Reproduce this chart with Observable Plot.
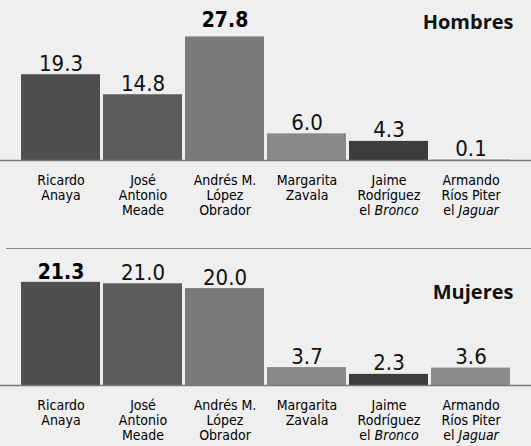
<!DOCTYPE html>
<html><head><meta charset="utf-8">
<script src="https://cdn.jsdelivr.net/npm/d3@7"></script>
<script src="https://cdn.jsdelivr.net/npm/@observablehq/plot@0.6"></script>
<style>
body{margin:0;background:#efefef;}
#chart{position:relative;width:531px;height:446px;background:#efefef;overflow:hidden}
#top,#bottom{position:absolute;left:0}
#top{top:0}
#bottom{top:230px}
#sep{position:absolute;left:6px;right:0;top:248px;border-top:1px solid #8c8c8c}
</style></head><body>
<div id="chart"><div id="top"></div><div id="sep"></div><div id="bottom"></div></div>
<script>
const candidates = ["Ricardo\nAnaya","José\nAntonio\nMeade","Andrés M.\nLópez\nObrador","Margarita\nZavala","Jaime\nRodríguez\nel Bronco","Armando\nRíos Piter\nel Jaguar"];
const hombres = [19.3, 14.8, 27.8, 6.0, 4.3, 0.1];
const mujeres = [21.3, 21.0, 20.0, 3.7, 2.3, 3.6];
const barColors = ["#4f4f4f","#5c5c5c","#7a7a7a","#8a8a8a","#3d3d3d","#8c8c8c"];
const panelTitles = ["Hombres","Mujeres"];

const numFont = "'Liberation Sans Narrow', 'DejaVu Sans Condensed', sans-serif";
const labFont = "'DejaVu Sans Condensed', 'Liberation Sans Narrow', sans-serif";

function italicize(svg) {
  svg.querySelectorAll("tspan").forEach(t => {
    const m = t.textContent.match(/^el (Bronco|Jaguar)$/);
    if (m) {
      t.textContent = "el ";
      const s = document.createElementNS("http://www.w3.org/2000/svg", "tspan");
      s.setAttribute("font-style", "italic");
      s.textContent = m[1];
      t.appendChild(s);
    }
  });
  return svg;
}

function panel(values, title, {height, baseline, yMax, titleY, boldDy}) {
  const maxV = d3.max(values);
  const data = candidates.map((c, i) => ({c, v: values[i], max: values[i] === maxV}));
  const svg = Plot.plot({
    width: 531, height,
    marginTop: 0, marginBottom: height - baseline, marginLeft: 16, marginRight: 16,
    style: {background: "transparent", color: "#111", fontFamily: labFont},
    x: {domain: candidates, padding: 0.04, axis: null, label: null},
    y: {domain: [0, yMax], axis: null},
    color: {domain: candidates, range: barColors},
    marks: [
      Plot.barY(data, {x: "c", y: "v", fill: "c"}),
      Plot.ruleY([0], {stroke: "#777", strokeWidth: 1.5, insetLeft: -16, insetRight: -16}),
      Plot.axisX({tickSize: 0, tickPadding: 14, fontSize: 14, lineHeight: 1.06, label: null, fontFamily: labFont, fill: "#000"}),
      Plot.text(data.filter(d => !d.max), {x: "c", y: "v", text: d => d.v.toFixed(1), lineAnchor: "bottom", dy: -4, fontSize: 22, fontFamily: numFont, fill: "#111"}),
      Plot.text(data.filter(d => d.max), {x: "c", y: "v", text: d => d.v.toFixed(1), lineAnchor: "bottom", dy: boldDy, fontSize: 21, fontWeight: "bold", fontFamily: labFont, fill: "#000"}),
      Plot.text([title], {frameAnchor: "top-right", lineAnchor: "bottom", dy: titleY, dx: -2, fontSize: 20, fontWeight: "bold", fontFamily: "'Open Sans', sans-serif", fill: "#111"})
    ]
  });
  return italicize(svg);
}

document.getElementById("top").appendChild(panel(hombres, panelTitles[0], {height: 230, baseline: 160, yMax: 36, titleY: 28, boldDy: -10}));
document.getElementById("bottom").appendChild(panel(mujeres, panelTitles[1], {height: 216, baseline: 155, yMax: 32, titleY: 68, boldDy: -3}));
</script>
</body></html>
